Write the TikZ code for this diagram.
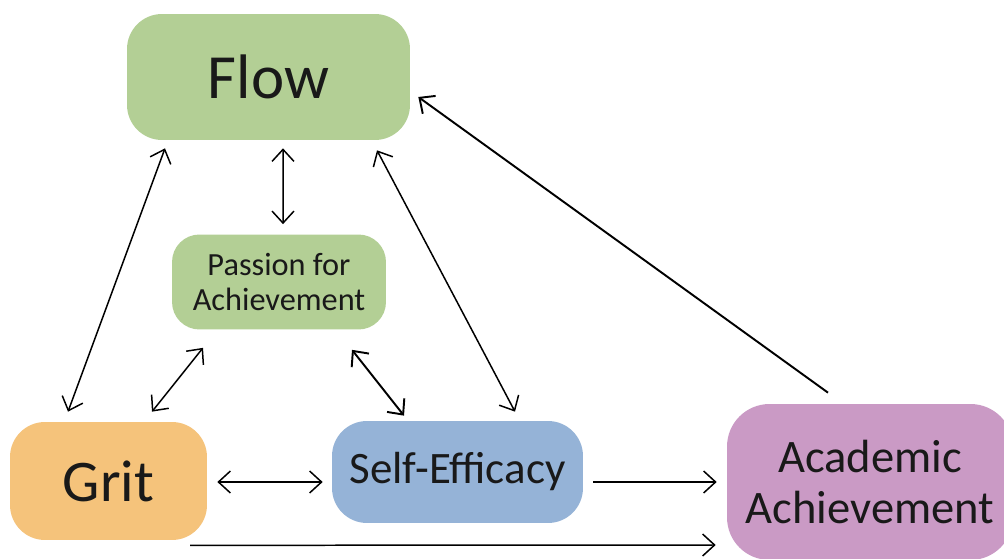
\documentclass[tikz,border=0pt]{standalone}
\usepackage{fontspec}
\setmainfont{Carlito}
\usetikzlibrary{arrows.meta,calc}

\definecolor{flowgreen}{HTML}{B3CF95}
\definecolor{gritorange}{HTML}{F5C37B}
\definecolor{selfblue}{HTML}{95B3D7}
\definecolor{acadpurple}{HTML}{CA9AC5}

\tikzset{
	barb/.tip={Straight Barb[length=0.24cm,width=0.44cm]},
	box/.style={rounded corners=0.7cm, align=center, inner sep=0pt, text=black!90},
	link/.style={line width=0.85pt, black},
	both/.style={link, barb-barb},
	one/.style={link, -barb}
}

\begin{document}
\begin{tikzpicture}[x=0.02cm, y=0.02cm]

	% canvas
	\clip (0,0) rectangle (1004,558);
	\fill[white] (0,0) rectangle (1004,558);

	% boxes
	\node[box, fill=flowgreen, minimum width=5.66cm, minimum height=2.52cm,
		font=\fontsize{35.8}{40}\selectfont] (flow) at (268.5,481) {Flow};
	\node[box, fill=flowgreen, rounded corners=0.55cm, minimum width=4.28cm, minimum height=1.9cm,
		font=\fontsize{18.4}{19.9}\selectfont] (passion) at (279,276) {Passion for\\Achievement};
	\node[box, fill=gritorange, minimum width=3.94cm, minimum height=2.36cm,
		font=\fontsize{33.6}{38}\selectfont] (grit) at (108.5,77) {Grit};
	\node[box, fill=selfblue, minimum width=5.02cm, minimum height=2.04cm,
		font=\fontsize{25.6}{30}\selectfont] (self) at (457.5,86) {Self-Efficacy};
	\node[box, fill=acadpurple, rounded corners=0.85cm, minimum width=5.72cm, minimum height=3.12cm,
		font=\fontsize{26.5}{28.5}\selectfont] (acad) at (870,76) {Academic\\Achievement};

	% links from Flow
	\draw[both] ($(flow.south)+(-103.5,-8)$) -- ($(grit.north)+(-40.5,10)$);
	\draw[both] ($(flow.south)+(14.5,-8)$) -- ($(passion.north)+(4,10)$);
	\draw[both] ($(flow.south)+(108.5,-10)$) -- ($(self.north)+(57.5,9)$);
	\draw[one, line width=1.1pt] ($(acad.north)+(-42,11)$) -- ($(flow.east)+(8,-20)$);

	% links from Passion
	\draw[both] ($(passion.south)+(-76,-18)$) -- ($(grit.north)+(43.5,10)$);
	\draw[both, line width=1.1pt] ($(passion.south)+(73,-20)$) -- ($(self.north)+(-53.5,5)$);

	% bottom row
	\draw[both] ($(grit.east)+(10,-1)$) -- ($(self.west)+(-9,-10)$);
	\draw[one] ($(self.east)+(10,-10)$) -- ($(acad.west)+(-10,0)$);
	\draw[one] ($(grit.south)+(81.5,-5)$) -- ($(acad.west)+(-11,-63)$);

\end{tikzpicture}
\end{document}
